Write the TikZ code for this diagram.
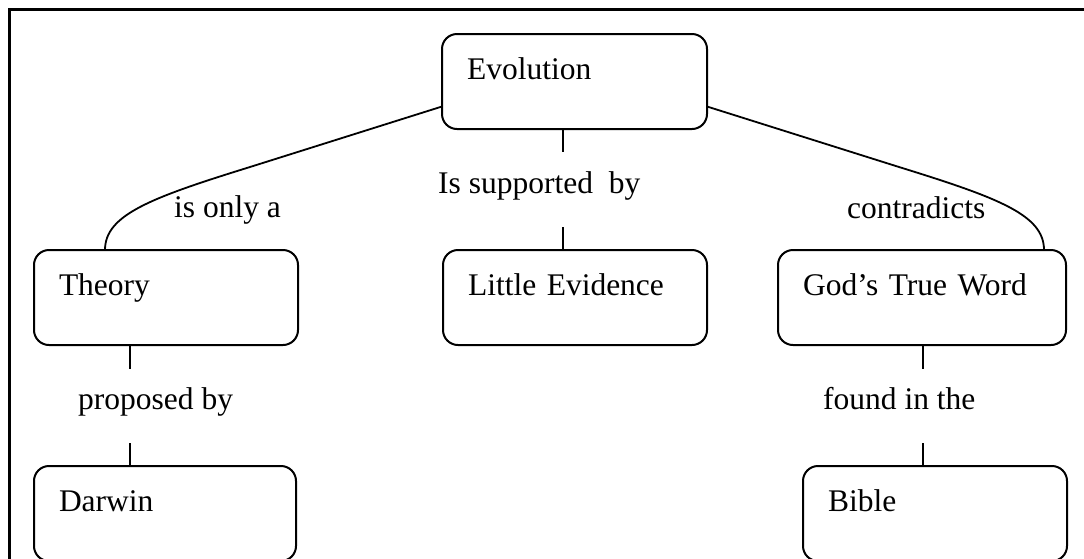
\documentclass[tikz,border=0pt]{standalone}
\usepackage{fontspec}
\setmainfont{Liberation Serif}
\begin{document}
\begin{tikzpicture}[x=1pt,y=-1pt,
  every node/.style={font=\fontsize{31.5pt}{38pt}\selectfont},
  cbox/.style={draw, line width=2pt, rounded corners=15pt, anchor=north west,
    inner xsep=25pt, inner ysep=0pt, outer sep=0pt, align=left,
    text height=45pt, text depth=50pt},
  lbl/.style={anchor=base west, inner sep=0pt},
  conn/.style={line width=1.8pt},
  frame/.style={line width=2.7pt}]
\useasboundingbox (0,0) rectangle (1084,558);
\clip (0,0) rectangle (1084,558);
\draw[frame] (9.3,600) -- (9.3,9.3) -- (1100,9.3);
% boxes
\node[cbox, text width=215pt] (evo) at (442,34) {Evolution};
\node[cbox, text width=214pt] (little) at (443,250) {Little Evidence};
\node[cbox, text width=214pt] (theory) at (34,250) {Theory};
\node[cbox, text width=238pt] (god) at (778,250) {God’s True Word};
\node[cbox, text width=212pt] (darwin) at (34,466) {Darwin};
\node[cbox, text width=214pt] (bible) at (803,466) {Bible};
% labels
\node[lbl] (l1) at (174,217) {is only a};
\node[lbl] (l2) at (438,193) {Is supported\ \ by};
\node[lbl] (l3) at (847,218) {contradicts};
\node[lbl] (l4) at (78,409) {proposed by};
\node[lbl] (l5) at (823,409) {found in the};
% connectors
\draw[conn] ([yshift=-25pt]evo.west) -- (250,167) .. controls (150,198) and (105,215) .. ([xshift=-61pt]theory.north);
\draw[conn] ([yshift=-25pt]evo.east) -- (899,167) .. controls (999,198) and (1044,215) .. ([xshift=122pt]god.north);
\draw[conn] ([xshift=-11.5pt]evo.south) -- ++(0,23);
\draw[conn] ([xshift=-12pt]little.north) -- ++(0,-23);
\draw[conn] ([xshift=-36pt]theory.south) -- ++(0,24);
\draw[conn] ([xshift=-35pt]darwin.north) -- ++(0,-23);
\draw[conn] ([xshift=1pt]god.south) -- ++(0,24);
\draw[conn] ([xshift=-12pt]bible.north) -- ++(0,-23);
\end{tikzpicture}
\end{document}
